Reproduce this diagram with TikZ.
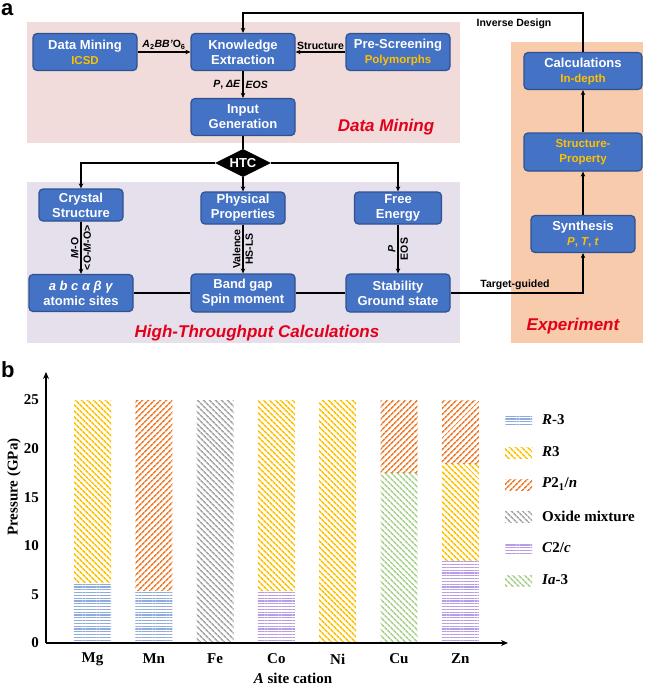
\documentclass[tikz,border=0pt]{standalone}
\usepackage{fontspec}
\setmainfont{Liberation Serif}
\setsansfont{Liberation Sans}
\usetikzlibrary{arrows.meta,shapes.geometric,patterns.meta}
\definecolor{boxblue}{HTML}{4472C4}
\definecolor{boxedge}{HTML}{2F528F}
\definecolor{subyellow}{HTML}{FFC000}
\definecolor{minepink}{HTML}{F2DCDB}
\definecolor{htclilac}{HTML}{E5E0EC}
\definecolor{exporange}{HTML}{F8CBAD}
\definecolor{titlered}{HTML}{E2001A}
\definecolor{phblue}{HTML}{8FAADC}
\definecolor{phyellow}{HTML}{FFC000}
\definecolor{phorange}{HTML}{ED7D31}
\definecolor{phgray}{HTML}{A6A6A6}
\definecolor{phpurple}{HTML}{B99CE6}
\definecolor{phgreen}{HTML}{A9D18E}
\newcommand{\subtxt}[1]{{\color{subyellow}\fontsize{11.5}{13}\selectfont #1}}
\tikzset{
  box/.style={draw=boxedge, line width=1.2pt, fill=boxblue, rounded corners=4pt,
    text=white, align=center, font=\sffamily\bfseries\fontsize{13}{15}\selectfont,
    minimum width=104pt, minimum height=37pt, inner sep=1pt},
  lab/.style={font=\sffamily\bfseries\fontsize{10.5}{12}\selectfont, inner sep=2pt},
  region/.style={font=\sffamily\bfseries\itshape\fontsize{17}{19}\selectfont, text=titlered},
  panel/.style={font=\sffamily\bfseries\fontsize{22}{22}\selectfont, anchor=base west, inner sep=0pt},
  link/.style={line width=1.2pt},
  axis/.style={line width=2pt, -{Stealth[length=7pt,width=6pt]}},
  tick/.style={font=\rmfamily\bfseries\fontsize{15}{17}\selectfont, inner sep=1pt},
  rmthree/.style={pattern={Lines[angle=0,distance=2.8pt,line width=1.2pt]}, pattern color=phblue},
  rthree/.style={pattern={Lines[angle=-45,distance=4pt,line width=1.7pt]}, pattern color=phyellow},
  ptwoone/.style={pattern={Lines[angle=45,distance=4pt,line width=1.7pt]}, pattern color=phorange},
  oxmix/.style={pattern={Lines[angle=-45,distance=4pt,line width=1.7pt]}, pattern color=phgray},
  ctwoc/.style={pattern={Lines[angle=0,distance=2.8pt,line width=1.2pt]}, pattern color=phpurple},
  iathree/.style={pattern={Lines[angle=-45,distance=4pt,line width=1.7pt]}, pattern color=phgreen},
  >={Stealth[length=5pt,width=4.5pt]}
}
\begin{document}
\begin{tikzpicture}[x=1pt,y=-1pt]
    \useasboundingbox (0,0) rectangle (645,685);
    % panel a: regions
    \fill[minepink] (27,22) rectangle (460,143);
    \fill[htclilac] (27,182) rectangle (460,343);
    \fill[exporange] (511,42) rectangle (643,343);
    \node[panel] (pa) at (1,16) {a};
    \node[region] (tmine) at (386,127) {Data Mining};
    \node[region] (thtc) at (257,333) {High-Throughput Calculations};
    \node[region] (texp) at (573,326) {Experiment};
    % data mining boxes
    \node[box] (mine) at (85,52) {Data Mining\\\subtxt{ICSD}};
    \node[box] (know) at (243,52) {Knowledge\\Extraction};
    \node[box] (pres) at (398,52) {Pre-Screening\\\subtxt{Polymorphs}};
    \node[box] (inp) at (243,117) {Input\\Generation};
    \node[diamond, fill=black, text=white, aspect=2, minimum width=56pt, minimum height=28pt,
      inner sep=0pt, font=\sffamily\bfseries\fontsize{13}{15}\selectfont] (htc) at (243,163) {HTC};
    % calculation boxes
    \node[box, minimum width=84pt, minimum height=32pt] (crys) at (81,205) {Crystal\\Structure};
    \node[box, minimum width=84pt, minimum height=32pt] (phys) at (243,208) {Physical\\Properties};
    \node[box, minimum width=87pt, minimum height=32pt] (free) at (398,208) {Free\\Energy};
    \node[box] (abc) at (81,293) {\textit{a b c α β γ}\\atomic sites};
    \node[box, minimum height=38pt] (band) at (243,293) {Band gap\\Spin moment};
    \node[box, minimum height=38pt] (stab) at (398,293) {Stability\\Ground state};
    % experiment boxes
    \node[box, minimum width=118pt] (calc) at (583,71) {Calculations\\\subtxt{In-depth}};
    \node[box, minimum width=118pt, minimum height=38pt] (sprop) at (583,152)
      {\subtxt{Structure-}\\\subtxt{Property}};
    \node[box] (syn) at (583,234) {Synthesis\\\subtxt{\textit{P}, \textit{T}, \textit{t}}};
    % connectors
    \draw[link,->] (mine) -- node[lab, above] {\textit{A}\textsubscript{2}\textit{BB'}O\textsubscript{6}} (know);
    \draw[link,->] (pres) -- node[lab, above] {Structure} (know);
    \draw[link,->] (know) -- node[lab, left] {\textit{P}, \textit{ΔE}} node[lab, right] {\textit{EOS}} (inp);
    \draw[link] (inp) -- (htc);
    \draw[link,->] (htc.west) -| (crys.north);
    \draw[link,->] (htc.south) -- (phys.north);
    \draw[link,->] (htc.east) -| (free.north);
    \draw[link,->] (crys) -- node[lab, rotate=90, above] {\textit{M}-O} node[lab, rotate=90, below] {<O-\textit{M}-O>} (abc);
    \draw[link,->] (phys) -- node[lab, rotate=90, above] {Valence} node[lab, rotate=90, below] {HS-LS} (band);
    \draw[link,->] (free) -- node[lab, rotate=90, above] {\textit{P}} node[lab, rotate=90, below] {EOS} (stab);
    \draw[link] (abc) -- (band);
    \draw[link] (band) -- (stab);
    \draw[link,->] (stab.east) -| (syn.south);
    \node[lab] (ltarget) at (515,285) {Target-guided};
    \draw[link,->] (syn) -- (sprop);
    \draw[link,->] (sprop) -- (calc);
    \coordinate (fb) at (583,13);
    \draw[link,->] (calc.north) -- (fb) -| (know.north);
    \node[lab] (linv) at (514,24) {Inverse Design};
    % panel b: bar chart
    \node[panel] (pb) at (1,377) {b};
    \foreach \i/\lo/\hi/\ph in {0/0/6.2/rmthree, 0/6.2/25/rthree, 1/0/5.4/rmthree, 1/5.4/25/ptwoone,
        2/0/25/oxmix, 3/0/5.4/ctwoc, 3/5.4/25/rthree, 4/0/25/rthree, 5/0/17.5/iathree,
        5/17.5/25/ptwoone, 6/0/8.5/ctwoc, 6/8.5/18.5/rthree, 6/18.5/25/ptwoone}
      \path[\ph] ({74+61.3*\i},{643-9.72*\lo}) rectangle ({111+61.3*\i},{643-9.72*\hi});
    \coordinate (orig) at (46,643);
    \coordinate (ytop) at (46,372);
    \coordinate (xend) at (508,643);
    \draw[axis] (orig) -- (ytop);
    \draw[axis] (orig) -- (xend);
    \foreach \p in {0,5,...,25}
      \node[tick, anchor=east] (yt\p) at (40,{643-9.72*\p}) {\p};
    \foreach \c [count=\k from 0] in {Mg,Mn,Fe,Co,Ni,Cu,Zn}
      \node[tick] (cat\c) at ({92.5+61.3*\k},659) {\c};
    \node[tick] (xlab) at (293,678) {\textit{A} site cation};
    \node[tick, rotate=90] (ylab) at (14,487) {Pressure (GPa)};
    % legend
    \foreach \ph/\txt [count=\k from 0] in {rmthree/{\textit{R}-3}, rthree/{\textit{R}3},
        ptwoone/{\textit{P}2\textsubscript{1}/\textit{n}}, oxmix/{Oxide mixture},
        ctwoc/{\textit{C}2/\textit{c}}, iathree/{\textit{Ia}-3}} {
      \path[\ph] (505,{415+32*\k}) rectangle (532,{426+32*\k});
      \node[tick, anchor=west] (leg\k) at (541,{420+32*\k}) {\txt};
    }
\end{tikzpicture}
\end{document}
